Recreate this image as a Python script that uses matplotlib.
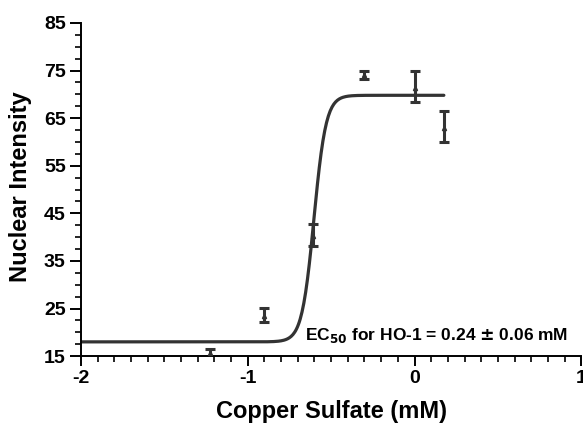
import numpy as np
import matplotlib.pyplot as plt
from matplotlib.ticker import MultipleLocator

# log10 of copper sulfate concentration (mM)
log_conc = [-1.225, -0.905, -0.607, -0.30, 0.0, 0.176]
intensity = [15.6, 23.5, 40.3, 74.0, 71.3, 62.9]
err_low = [0.9, 1.3, 2.2, 0.8, 2.9, 2.9]
err_high = [1.0, 1.6, 2.4, 0.9, 3.6, 3.7]

# sigmoidal fit parameters
bottom, top, log_ec50, hill = 18.0, 69.8, -0.603, 12.0

col = '#333333'
plt.rcParams['font.family'] = ['Liberation Sans', 'DejaVu Sans']
plt.rcParams['font.weight'] = 'bold'

fig = plt.figure(figsize=(5.83, 4.25), dpi=100)
ax = fig.add_axes([0.139, 0.162, 0.858, 0.784])

xfit = np.linspace(-2, max(log_conc), 400)
yfit = bottom + (top - bottom) / (1 + 10 ** ((log_ec50 - xfit) * hill))
ax.plot(xfit, yfit, color=col, lw=2.3, solid_capstyle='round', zorder=2)

ax.errorbar(log_conc, intensity, yerr=[err_low, err_high], fmt='^', ms=3,
            color=col, ecolor=col, elinewidth=2.2, capsize=3.5, capthick=2.2,
            zorder=3)

ax.text(-0.655, 18.3, r'EC$_{50}$ for HO-1 = 0.24 $\pm$ 0.06 mM', fontsize=12.5,
        fontweight='bold', ha='left', va='baseline')

ax.set_xlim(-2, 1)
ax.set_ylim(15, 85)
ax.xaxis.set_minor_locator(MultipleLocator(0.1))
ax.yaxis.set_minor_locator(MultipleLocator(2.5))
ax.set_yticks([15, 25, 35, 45, 55, 65, 75, 85])
ax.set_xticks([-2, -1, 0, 1])
ax.set_xticklabels(['-2', '-1', '0', '1'])

for s in ['top', 'right']:
    ax.spines[s].set_visible(False)
for s in ['left', 'bottom']:
    ax.spines[s].set_linewidth(1.4)
ax.tick_params(which='major', length=7, width=1.4, labelsize=14, pad=3)
ax.tick_params(which='minor', length=4, width=1.2)
ax.tick_params(axis='y', which='major', length=8)
for lab in ax.get_xticklabels() + ax.get_yticklabels():
    lab.set_fontweight('bold')

ax.set_xlabel('Copper Sulfate (mM)', fontsize=17, fontweight='bold', va='baseline')
ax.xaxis.set_label_coords(0.5, -0.186)
ax.set_ylabel('Nuclear Intensity', fontsize=17, fontweight='bold')
ax.yaxis.set_label_coords(-0.098, 0.51)

fig.savefig('out.png', dpi=100)
